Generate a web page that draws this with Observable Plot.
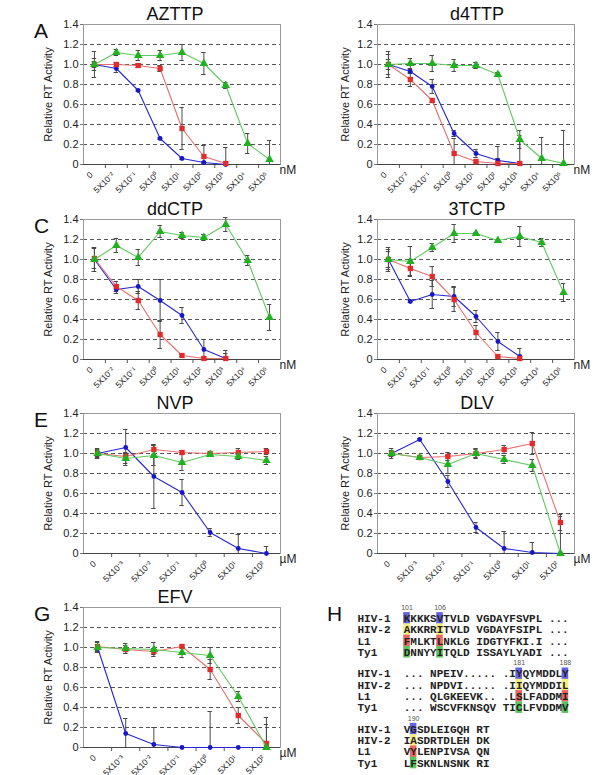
<!DOCTYPE html>
<html><head><meta charset="utf-8">
<script src="https://cdn.jsdelivr.net/npm/d3@7"></script>
<script src="https://cdn.jsdelivr.net/npm/@observablehq/plot@0.6"></script>
<style>
body{margin:0;background:#fff;font-family:Arial,"Liberation Sans",sans-serif;}
#fig{position:relative;width:600px;height:775px;overflow:hidden;}
.panel{position:absolute;width:300px;height:195px;}
.title{position:absolute;width:200px;text-align:center;font-size:18px;line-height:20px;color:#111;}
.letter{position:absolute;font-size:21px;line-height:22px;color:#111;}
</style></head>
<body><div id="fig"></div>
<script>
// ---------- Data ----------
const concNM = ["0","5X10⁻²","5X10⁻¹","5X10⁰","5X10¹","5X10²","5X10³","5X10⁴","5X10⁵"];
const concUM = ["0","5X10⁻³","5X10⁻²","5X10⁻¹","5X10⁰","5X10¹","5X10²"];
const yTicks = [0,0.2,0.4,0.6,0.8,1.0,1.2,1.4];
const gridLines = [0.2,0.4,0.6,0.8,1.0,1.2];
const yLabel = "Relative RT Activity";

// AZTTP
const azttpHIV1 = [1.00,0.96,0.74,0.26,0.06,0.02,0.00];
const azttpHIV1Err = [0.03,0.04,0.01,0.01,0.01,0.01,0.00];
const azttpL1 = [1.00,1.00,0.99,0.96,0.36,0.08,0.01];
const azttpL1Err = [0.06,0.02,0.02,0.03,0.21,0.11,0.16];
const azttpTy1 = [1.00,1.12,1.09,1.09,1.12,1.01,0.79,0.21,0.05];
const azttpTy1Err = [0.13,0.03,0.05,0.05,0.08,0.11,0.03,0.10,0.19];
// d4TTP
const d4ttpHIV1 = [1.00,0.93,0.78,0.31,0.11,0.04,0.01];
const d4ttpHIV1Err = [0.10,0.02,0.07,0.03,0.04,0.14,0.02];
const d4ttpL1 = [1.00,0.85,0.64,0.11,0.03,0.01,0.01];
const d4ttpL1Err = [0.05,0.07,0.02,0.15,0.01,0.05,0.28];
const d4ttpTy1 = [1.00,1.01,1.01,0.99,0.99,0.90,0.25,0.06,0.01];
const d4ttpTy1Err = [0.13,0.05,0.08,0.06,0.03,0.02,0.09,0.21,0.33];
// ddCTP
const ddctpHIV1 = [1.00,0.70,0.73,0.59,0.44,0.10,0.01];
const ddctpHIV1Err = [0.12,0.04,0.07,0.21,0.08,0.10,0.08];
const ddctpL1 = [1.01,0.73,0.59,0.25,0.04,0.01,0.01];
const ddctpL1Err = [0.10,0.05,0.09,0.14,0.01,0.01,0.05];
const ddctpTy1 = [1.00,1.14,1.02,1.28,1.24,1.22,1.35,0.99,0.42];
const ddctpTy1Err = [0.12,0.07,0.08,0.06,0.03,0.03,0.07,0.05,0.13];
// 3TCTP
const tctpHIV1 = [1.00,0.58,0.65,0.63,0.43,0.18,0.03];
const tctpHIV1Err = [0.08,0.01,0.14,0.10,0.06,0.09,0.08];
const tctpL1 = [1.00,0.91,0.83,0.60,0.27,0.03,0.01];
const tctpL1Err = [0.12,0.07,0.10,0.12,0.07,0.01,0.01];
const tctpTy1 = [1.00,0.98,1.12,1.26,1.26,1.19,1.23,1.17,0.67];
const tctpTy1Err = [0.10,0.15,0.04,0.09,0.01,0.01,0.10,0.04,0.09];
// NVP
const nvpHIV1 = [1.00,1.06,0.77,0.61,0.21,0.05,0.00];
const nvpHIV1Err = [0.03,0.18,0.32,0.13,0.04,0.14,0.07];
const nvpL1 = [1.00,0.97,1.04,1.01,1.00,1.01,1.02];
const nvpL1Err = [0.04,0.04,0.05,0.02,0.01,0.04,0.03];
const nvpTy1 = [1.00,0.95,0.98,0.91,0.99,0.97,0.93];
const nvpTy1Err = [0.05,0.05,0.10,0.08,0.01,0.03,0.04];
// DLV
const dlvHIV1 = [1.00,1.14,0.72,0.26,0.05,0.01,0.00];
const dlvHIV1Err = [0.03,0.01,0.06,0.05,0.17,0.10,0.00];
const dlvL1 = [1.00,0.96,0.97,1.00,1.04,1.10,0.31];
const dlvL1Err = [0.05,0.01,0.04,0.04,0.04,0.11,0.08];
const dlvTy1 = [1.00,0.96,0.89,1.00,0.94,0.88,0.00];
const dlvTy1Err = [0.03,0.01,0.09,0.05,0.04,0.06,0.37];
// EFV
const efvHIV1 = [1.00,0.14,0.03,0.00,0.00,0.00,0.00];
const efvHIV1Err = [0.03,0.15,0.17,0.00,0.36,0.00,0.00];
const efvL1 = [1.01,0.98,0.96,1.01,0.78,0.32,0.04];
const efvL1Err = [0.05,0.04,0.03,0.01,0.10,0.08,0.26];
const efvTy1 = [1.00,0.99,0.98,0.95,0.92,0.51,0.00];
const efvTy1Err = [0.05,0.05,0.07,0.05,0.08,0.05,0.23];

// Panel H alignment
const hNames = ["HIV-1","HIV-2","L1","Ty1"];
const hBlock1 = ["KKKKSVTVLD VGDAYFSVPL ...","AKKRRITVLD VGDAYFSIPL ...","FMLKTLNKLG IDGTYFKI.I ...","DNNYYITQLD ISSAYLYADI ..."];
const hBlock2 = ["... NPEIV..... .IYQYMDDLY","... NPDVI..... .IIQYMDDIL","... QLGKEEVK.. .LSLFADDMI","... WSCVFKNSQV TICLFVDDMV"];
const hBlock3 = ["VGSDLEIGQH RT","IASDRTDLEH DK","VYLENPIVSA QN","LFSKNLNSNK RI"];
const hHighlights = [[0,5],[17,24],[1]];
const hNumbers = [["101","106"],["181","188"],["190"]];
const hColors = ["#6262e4","#f4ef7c","#ee6460","#5cc25e"];

// ---------- Panels ----------
const panels = [
  {letter:"A", title:"AZTTP", col:0, row:0, labels:concNM, unit:"nM", s:[[azttpHIV1,azttpHIV1Err],[azttpL1,azttpL1Err],[azttpTy1,azttpTy1Err]]},
  {letter:"B", title:"d4TTP", col:1, row:0, labels:concNM, unit:"nM", s:[[d4ttpHIV1,d4ttpHIV1Err],[d4ttpL1,d4ttpL1Err],[d4ttpTy1,d4ttpTy1Err]]},
  {letter:"C", title:"ddCTP", col:0, row:1, labels:concNM, unit:"nM", s:[[ddctpHIV1,ddctpHIV1Err],[ddctpL1,ddctpL1Err],[ddctpTy1,ddctpTy1Err]]},
  {letter:"D", title:"3TCTP", col:1, row:1, labels:concNM, unit:"nM", s:[[tctpHIV1,tctpHIV1Err],[tctpL1,tctpL1Err],[tctpTy1,tctpTy1Err]]},
  {letter:"E", title:"NVP", col:0, row:2, labels:concUM, unit:"µM", s:[[nvpHIV1,nvpHIV1Err],[nvpL1,nvpL1Err],[nvpTy1,nvpTy1Err]]},
  {letter:"F", title:"DLV", col:1, row:2, labels:concUM, unit:"µM", s:[[dlvHIV1,dlvHIV1Err],[dlvL1,dlvL1Err],[dlvTy1,dlvTy1Err]]},
  {letter:"G", title:"EFV", col:0, row:3, labels:concUM, unit:"µM", s:[[efvHIV1,efvHIV1Err],[efvL1,efvL1Err],[efvTy1,efvTy1Err]]}
];
const rowTop = [0,195,389,583];
const colLeft = [0,300];
const marginLefts = [83,77];
const frameW = 197;
const styles = [
  {line:"#2626d6", fill:"#1717c8", symbol:"circle", r:2.4},
  {line:"#e67070", fill:"#e42a2a", symbol:"square", r:3.0},
  {line:"#62c862", fill:"#20b020", symbol:"triangle", r:3.2}
];
const FONT = "Arial, 'Liberation Sans', sans-serif";
const fig = document.getElementById("fig");

function addDiv(cls, text, left, top, extra) {
  const d = document.createElement("div");
  d.className = cls; d.textContent = text;
  d.style.left = left + "px"; d.style.top = top + "px";
  if (extra) Object.assign(d.style, extra);
  fig.appendChild(d);
}

for (const p of panels) {
  const n = p.labels.length;
  const ml = marginLefts[p.col];
  const marks = [
    Plot.ruleY(gridLines, {stroke:"#555", strokeDasharray:"4,3", strokeWidth:1}),
    Plot.frame({stroke:"#9a9a9a"}),
    Plot.axisY(yTicks, {tickSize:3, tickPadding:2, fontSize:11, stroke:"#777",
      tickFormat: d => d === 0 ? "0" : d.toFixed(1), label:null}),
    Plot.text([yLabel], {frameAnchor:"left", text: d => d, rotate:-90, textAnchor:"middle",
      lineAnchor:"middle", fontSize:11, fill:"#222", dx: p.col === 0 ? -35 : -32}),
    Plot.axisX(d3.range(n - 1).map(i => i + 0.5), {tickSize:4, tickFormat: () => "", stroke:"#555", label:null}),
    Plot.axisX(d3.range(n), {tickSize:0, tickPadding:9, tickRotate:-45, fontSize:8.5,
      tickFormat: i => p.labels[i], label:null, dx:-3}),
    Plot.ruleY([0], {stroke:"#444"}),
    Plot.text([p.unit], {frameAnchor:"bottom-right", text: d => d, textAnchor:"start",
      dx: -1, dy: 9, fontSize: 12, fill:"#222"})
  ];
  p.s.forEach(([vals, errs]) => {
    const data = vals.map((v, i) => ({i, v, lo: Math.max(0, v - errs[i]), hi: v + errs[i]}));
    marks.push(
      Plot.ruleX(data, {x:"i", y1:"lo", y2:"hi", stroke:"#4a4a4a", strokeWidth:1}),
      Plot.ruleY(data, {y:"hi", x1:"i", x2:"i", insetLeft:-2.2, insetRight:-2.2, stroke:"#4a4a4a"}),
      Plot.ruleY(data.filter(d => d.lo > 0), {y:"lo", x1:"i", x2:"i", insetLeft:-2.2, insetRight:-2.2, stroke:"#4a4a4a"})
    );
  });
  p.s.forEach(([vals], k) => {
    const st = styles[k];
    const data = vals.map((v, i) => ({i, v}));
    marks.push(
      Plot.line(data, {x:"i", y:"v", stroke: st.line, strokeWidth:1.1}),
      Plot.dot(data, {x:"i", y:"v", symbol: st.symbol, r: st.r, fill: st.fill, stroke:"none"})
    );
  });
  const svg = Plot.plot({
    width:300, height:195, marginLeft:ml, marginRight:300 - ml - frameW, marginTop:24, marginBottom:31,
    style:{fontFamily:FONT, background:"transparent", color:"#222", overflow:"visible"},
    x:{type:"linear", domain:[-0.5, n - 0.5], axis:null, label:null},
    y:{domain:[0,1.4], axis:null, label:null},
    symbol:{type:"identity"},
    marks
  });
  const wrap = document.createElement("div");
  wrap.className = "panel";
  wrap.style.left = colLeft[p.col] + "px";
  wrap.style.top = rowTop[p.row] + "px";
  wrap.appendChild(svg);
  fig.appendChild(wrap);
  const cx = colLeft[p.col] + (p.col === 0 ? 175 : 177);
  addDiv("title", p.title, cx - 100, rowTop[p.row] + 4);
  addDiv("letter", p.letter, colLeft[p.col] + (p.col === 0 ? 34 : 327), rowTop[p.row] + 20);
}

// ---------- Panel H ----------
(function () {
  const blocks = [hBlock1, hBlock2, hBlock3];
  const seqStart = 7;
  const chars = [], rects = [], nums = [], names = [];
  blocks.forEach((block, b) => {
    block.forEach((seq, r) => {
      const line = b * 4.9 + r;
      names.push({name: hNames[r], line});
      [...seq].forEach((ch, j) => {
        if (ch !== " ") chars.push({ch, col: seqStart + j, line});
      });
      hHighlights[b].forEach(j => rects.push({col: seqStart + j, line, color: hColors[r]}));
    });
    hHighlights[b].forEach((j, q) => nums.push({t: hNumbers[b][q], col: seqStart + j, line: b * 4.9 - 0.95}));
  });
  const MONO = "'Liberation Mono', 'Courier New', 'DejaVu Sans Mono', monospace";
  const svg = Plot.plot({
    width:300, height:195, margin:0,
    style:{fontFamily:MONO, background:"transparent"},
    x:{type:"linear", domain:[0,36], range:[57, 57 + 36 * 6.6], axis:null},
    y:{type:"linear", domain:[0,12.8], range:[35, 35 + 12.8 * 11.3], axis:null},
    marks:[
      Plot.rect(rects, {x1: d => d.col, x2: d => d.col + 1, y1: d => d.line - 0.52, y2: d => d.line + 0.5, fill: d => d.color}),
      Plot.text(names, {x: 0, y:"line", text:"name", textAnchor:"start", fontSize:11, fontWeight:"bold", fill:"#222"}),
      Plot.text(chars, {x: d => d.col + 0.5, y:"line", text:"ch", fontSize:11, fontWeight:"bold", fill:"#222"}),
      Plot.text(nums, {x: d => d.col + 0.5, y:"line", text:"t", fontSize:7, fill:"#555", fontFamily:FONT})
    ]
  });
  const wrap = document.createElement("div");
  wrap.className = "panel";
  wrap.style.left = "300px"; wrap.style.top = "583px";
  wrap.appendChild(svg);
  fig.appendChild(wrap);
  addDiv("letter", "H", 327, 583 + 20);
})();
</script>
</body></html>
